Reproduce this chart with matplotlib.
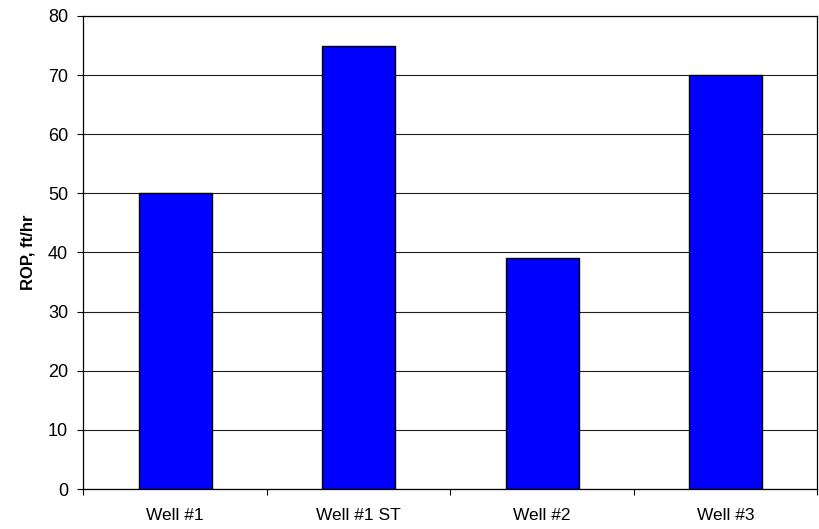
import matplotlib
matplotlib.use("Agg")
import matplotlib.pyplot as plt
import numpy as np

# data
wells = ["Well #1", "Well #1 ST", "Well #2", "Well #3"]
rop = [50, 75, 39, 70]
y_ticks = [0, 10, 20, 30, 40, 50, 60, 70, 80]

plt.rcParams['font.family'] = ['Liberation Sans', 'DejaVu Sans']

fig = plt.figure(figsize=(8.2, 5.29), dpi=100)
ax = fig.add_axes([0.1018, 0.0756, 0.8951, 0.8942])

x = np.arange(len(wells))
ax.set_axisbelow(True)
ax.yaxis.grid(True, color='#202020', linewidth=0.8)
ax.bar(x, rop, width=0.4, color='#0000FF', edgecolor='black', linewidth=1.0)

ax.set_xlim(-0.5, len(wells) - 0.5)
ax.set_ylim(0, 80)
ax.set_yticks(y_ticks)
ax.tick_params(axis='y', direction='out', length=4.5, width=0.8, pad=6.5, labelsize=13)

# category boundaries carry the tick marks, labels sit in the middle
ax.set_xticks(np.arange(len(wells) + 1) - 0.5)
ax.set_xticklabels([])
ax.set_xticks(x, minor=True)
ax.set_xticklabels(wells, minor=True)
ax.tick_params(axis='x', which='major', direction='out', length=4.5, width=0.8)
ax.tick_params(axis='x', which='minor', length=0, pad=14, labelsize=12.5)

for side in ['left', 'right', 'top', 'bottom']:
    ax.spines[side].set_linewidth(0.9)
    ax.spines[side].set_color('black')

ax.set_ylabel("ROP, ft/hr", fontsize=12, fontweight='bold', labelpad=9)

fig.savefig("out.png", dpi=100)
